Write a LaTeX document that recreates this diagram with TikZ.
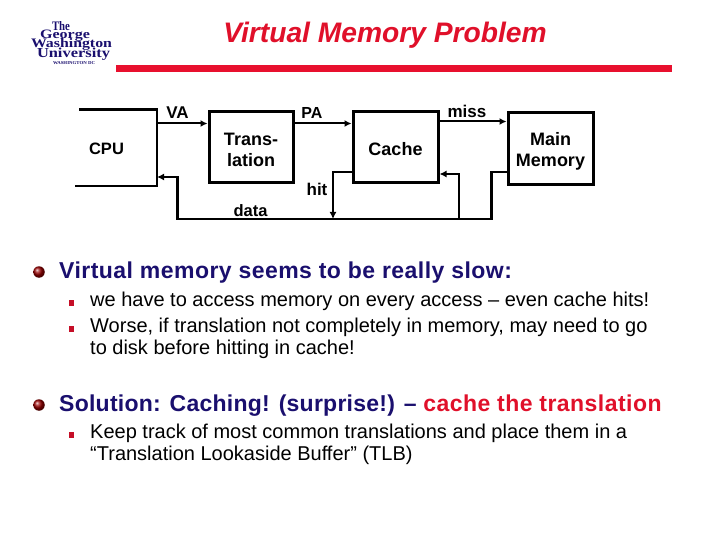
\documentclass[tikz,border=0pt]{standalone}
\usepackage{fontspec}
\setmainfont{Liberation Sans}
\newfontfamily\logofont{Liberation Serif}
\newfontfamily\headA[LetterSpace=2]{Liberation Sans}
\newfontfamily\headB[LetterSpace=1.1]{Liberation Sans}
\usetikzlibrary{arrows.meta}
\definecolor{navy}{HTML}{1A0F6E}
\definecolor{redbar}{HTML}{E8102E}
\definecolor{titlered}{HTML}{E0102A}
\newcommand{\logotext}[3]{\resizebox{#1pt}{#2pt}{\logofont\bfseries #3}}
\tikzset{
 wire/.style={draw=black,line width=2.4pt},
 arr/.style={wire,-{Latex[length=7pt,width=7pt]}},
 thinarr/.style={draw=black,line width=2pt,-{Latex[length=7pt,width=7pt]}},
 blockbox/.style={draw=black,line width=3pt,align=center,font=\fontsize{18}{21}\selectfont\bfseries,inner sep=0pt},
 lab/.style={font=\fontsize{17}{19}\selectfont\bfseries,inner sep=0pt},
 head/.style={anchor=west,inner sep=0pt,text=navy,font=\fontsize{23}{26}\selectfont\bfseries},
 body/.style={anchor=north west,inner sep=0pt,align=left,font=\fontsize{20}{22}\selectfont},
 logo/.style={inner sep=0pt,text=navy},
 ball/.style={circle,inner sep=0pt,minimum size=11.5pt,shading=ball,ball color=red!60!black},
 sq/.style={rectangle,inner sep=0pt,minimum size=5.5pt,fill=redbar!85!black},
}
\begin{document}
\begin{tikzpicture}[x=1pt,y=-1pt]
\useasboundingbox (0,0) rectangle (720,540);
% logo
\node[logo] (l1) at (61,26.5) {\logotext{18}{9}{The}};
\node[logo] (l2) at (65,35.5) {\logotext{50}{8.5}{George}};
\node[logo] (l3) at (71.5,44.5) {\logotext{81}{9}{Washington}};
\node[logo] (l4) at (73.5,54) {\logotext{73}{9.5}{University}};
\node[logo] (l5) at (74,63.5) {\logotext{42}{3}{WASHINGTON DC}};
% title
\node[inner sep=0pt,text=titlered,font=\fontsize{28.2}{30}\selectfont\bfseries\itshape] (title) at (385,35) {Virtual Memory Problem};
\fill[redbar] (116,65) rectangle (672,72);
% blocks
\coordinate (cpuTL) at (79,109.5);
\coordinate (cpuTR) at (157,109.5);
\coordinate (cpuBR) at (157,186);
\coordinate (cpuBL) at (75,186);
\draw[wire,line width=2.6pt] (cpuTL) -- (cpuTR) -- (cpuBR) -- (cpuBL);
\node[lab,font=\fontsize{16.5}{19}\selectfont\bfseries] (cpu) at (106.5,148.5) {CPU};
\node[blockbox,minimum width=84pt,minimum height=71pt] (tr) at (251,147.5) {\rule{0pt}{17pt}Trans-\\lation};
\node[blockbox,minimum width=85pt,minimum height=71pt] (ca) at (395.5,147.5) {\rule{0pt}{16pt}Cache};
\node[blockbox,minimum width=85pt,minimum height=72pt] (mm) at (550.5,149) {\rule{0pt}{17pt}Main\\Memory};
% labels
\node[lab] (va) at (177.5,112.5) {VA};
\node[lab,font=\fontsize{16}{19}\selectfont\bfseries] (pa) at (312,113) {PA};
\node[lab] (miss) at (467,111) {miss};
\node[lab] (hit) at (317,189) {hit};
\node[lab,font=\fontsize{16.5}{19}\selectfont\bfseries] (data) at (250.5,211) {data};
% connectors
\coordinate (cpuA) at (157,123.5);
\coordinate (cpuB) at (157,177);
\coordinate (dataL) at (177.5,219);
\coordinate (dataR) at (491.5,219);
\coordinate (hitEnd) at (333,219);
\coordinate (backJ) at (459,219);
\draw[thinarr] (cpuA) -- (tr.west |- cpuA);
\draw[thinarr] (tr.east |- 0,123.5) -- (ca.west |- 0,123.5);
\draw[thinarr] (ca.east |- 0,121.5) -- (mm.west |- 0,121.5);
\draw[arr] (mm.west |- 0,172) -- (491.5,172) -- (dataR) -- (dataL) -- (177.5,177) -- (cpuB);
\draw[arr] (ca.west |- 0,172) -- (333,172) -- (hitEnd);
\draw[arr] (backJ) -- (459,174) -- (ca.east |- 0,174);
% bullets
\node[ball] (b1) at (39,272) {};
\node[head] (h1) at (59,272.5) {\headA Virtual memory seems to be really slow:};
\node[sq] (s1) at (71.5,303) {};
\node[sq] (s2) at (71.5,329) {};
\node[body] (t1) at (90,291.5) {we have to access memory on every access – even cache hits!};
\node[body] (t2) at (90,317.5) {Worse, if translation not completely in memory, may need to go\\to disk before hitting in cache!};
\node[ball] (b2) at (39,405) {};
\node[head] (h2) at (59,405.5) {\headB Solution: Caching! (surprise!) – \textcolor{titlered}{\headA cache the translation}};
\node[sq] (s3) at (71.5,435) {};
\node[body] (t3) at (90,423.5) {Keep track of most common translations and place them in a\\“Translation Lookaside Buffer” (TLB)};
\end{tikzpicture}
\end{document}
